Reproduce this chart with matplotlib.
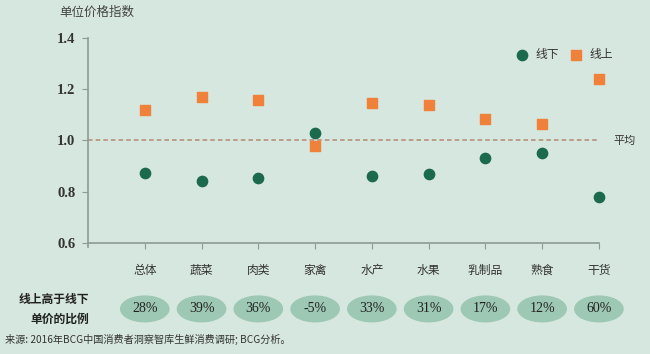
import matplotlib
matplotlib.use("Agg")
import matplotlib.pyplot as plt
from matplotlib.patches import Ellipse

plt.rcParams['font.family'] = ['Noto Sans CJK SC', 'DejaVu Sans']

categories = ['总体', '蔬菜', '肉类', '家禽', '水产', '水果', '乳制品', '熟食', '干货']
offline = [0.875, 0.84, 0.852, 1.03, 0.863, 0.871, 0.93, 0.95, 0.778]
online = [1.12, 1.168, 1.159, 0.98, 1.148, 1.14, 1.085, 1.064, 1.24]
ratio_labels = ['28%', '39%', '36%', '-5%', '33%', '31%', '17%', '12%', '60%']
yticks = [0.6, 0.8, 1.0, 1.2, 1.4]

bg = '#d5e7de'
green = '#1c6a4e'
orange = '#f0813a'
axis_col = '#8c9c94'

fig = plt.figure(figsize=(6.5, 3.54), dpi=100, facecolor=bg)
ax = fig.add_axes([0.1354, 0.3136, 0.786, 0.5791])
ax.set_facecolor(bg)

x = list(range(len(categories)))
ax.scatter(x, offline, s=55, color=green, marker='o', zorder=3, clip_on=False)
ax.scatter(x, online, s=55, color=orange, marker='s', zorder=3, clip_on=False)

# 平均线
ax.axhline(1.0, color='#b48a74', lw=1.1, ls=(0, (3, 2)), zorder=1)
ax.text(8.25, 1.0, '平均', fontsize=8, va='center', ha='left', color='#333333')

ax.set_xlim(-1, 8)
ax.set_ylim(0.6, 1.4)
ax.set_yticks(yticks)
ax.set_yticklabels(['%.1f' % v for v in yticks], family='Liberation Serif',
                   fontweight='bold', fontsize=10.5, color='#333333')
ax.set_xticks(x)
ax.set_xticklabels(categories, fontsize=8.5, color='#333333')
ax.tick_params(axis='y', length=4, color=axis_col, pad=5)
ax.tick_params(axis='x', length=4, color=axis_col, pad=11)
for s in ['top', 'right']:
    ax.spines[s].set_visible(False)
for s in ['left', 'bottom']:
    ax.spines[s].set_color(axis_col)
    ax.spines[s].set_linewidth(1.2)
ax.spines['left'].set_bounds(0.585, 1.4)

# legend
ax.scatter([6.65], [1.335], s=55, color=green, marker='o', clip_on=False)
ax.text(6.88, 1.335, '线下', fontsize=8.5, va='center', color='#333333')
ax.scatter([7.6], [1.335], s=55, color=orange, marker='s', clip_on=False)
ax.text(7.83, 1.335, '线上', fontsize=8.5, va='center', color='#333333')

fig.text(0.092, 0.966, '单位价格指数', fontsize=9, color='#444444', ha='left', va='center')

# 线上高于线下单价的比例
fig.text(0.137, 0.127, '线上高于线下\n单价的比例', fontsize=8.5, fontweight='bold',
         ha='right', va='center', color='#222222', linespacing=1.65)

y_ell = 0.6 - (309 - 243) / 51.3 * 0.2
for i, lab in enumerate(ratio_labels):
    ax.add_patch(Ellipse((i, y_ell), 0.85, 0.1, color='#9dc8b3',
                         clip_on=False, zorder=2))
    ax.text(i, y_ell, lab, ha='center', va='center', fontsize=10,
            family='Liberation Serif', color='#222222', zorder=3)

fig.text(0.008, 0.04, '来源: 2016年BCG中国消费者洞察智库生鲜消费调研; BCG分析。',
         fontsize=7.3, color='#333333', ha='left', va='center')

fig.savefig('out.png', dpi=100, facecolor=bg)
